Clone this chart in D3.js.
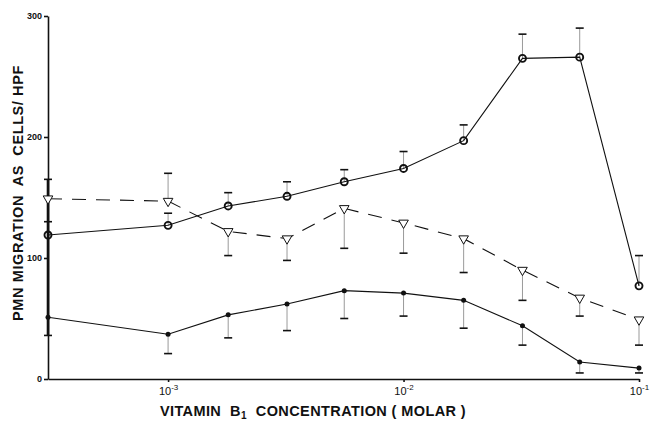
<!DOCTYPE html>
<html lang="en">
<head>
<meta charset="UTF-8">
<title>PMN migration vs vitamin B1</title>
<script src="https://cdn.jsdelivr.net/npm/d3@7"></script>
<style>
body { margin: 0; background: #fff; }
svg { display: block; }
text { font-family: 'Liberation Sans', Arial, sans-serif; fill: #111; white-space: pre; }
.axis path, .axis line { stroke: #111; stroke-width: 1.6; }
.axis text { font-size: 9px; font-weight: bold; }
.err { stroke: #555; stroke-width: 0.6; }
.cap { stroke: #111; stroke-width: 1.6; }
</style>
</head>
<body>
<svg width="654" height="422"></svg>
<script>
// concentration (molar); 0 = control, drawn on the y axis
var concentrations = [0, 1e-3, 1.8e-3, 3.2e-3, 5.6e-3, 1e-2, 1.8e-2, 3.2e-2, 5.6e-2, 1e-1];

// open circles, solid line
var circleMean = [119, 127, 143, 151, 163, 174, 197, 265, 266, 77];
var circleErr  = [130, 137, 154, 163, 173, 188, 210, 285, 290, 102];

// open triangles, dashed line
var triMean = [149, 147, 122, 116, 141, 129, 116, 90, 67, 49];
var triErr  = [165, 170, 102, 98, 108, 104, 88, 65, 52, 28];

// filled dots, solid line
var dotMean = [51, 37, 53, 62, 73, 71, 65, 44, 14, 9];
var dotErr  = [36, 21, 34, 40, 50, 52, 42, 28, 5, 5];

var yTicks = [0, 100, 200, 300];
var xTicks = [1e-3, 1e-2, 1e-1];
var xTickExp = ["-3", "-2", "-1"];

var svg = d3.select("svg");
var plotLeft = 48, plotRight = 639, plotTop = 16, plotBottom = 379;

var x = d3.scaleLog().domain([Math.pow(10, -3.51), 1e-1]).range([plotLeft, plotRight]);
var y = d3.scaleLinear().domain([0, 300]).range([plotBottom, plotTop]);

var xPos = function(c) { return c === 0 ? x(x.domain()[0]) : x(c); };

// axes
var yAxis = d3.axisLeft(y).tickValues(yTicks).tickSize(4).tickSizeOuter(0).tickPadding(2);
svg.append("g").attr("class", "axis").attr("transform", "translate(" + plotLeft + ",0)").call(yAxis);

var xAxis = d3.axisBottom(x).tickValues(xTicks).tickSize(3).tickSizeOuter(0).tickFormat("");
var xg = svg.append("g").attr("class", "axis").attr("transform", "translate(0," + plotBottom + ")").call(xAxis);
xg.selectAll(".tick").each(function(d, i) {
    var t = d3.select(this).append("text").attr("y", 16).attr("text-anchor", "middle")
        .style("font-size", "11px").style("font-weight", "normal");
    t.append("tspan").text("10");
    t.append("tspan").attr("dy", -5).style("font-size", "8px").text(xTickExp[i]);
});

// axis titles
svg.append("text")
    .attr("transform", "translate(23,193) rotate(-90)")
    .attr("text-anchor", "middle")
    .style("font-size", "14.5px").style("font-weight", "bold").style("letter-spacing", "0.6px")
    .text("PMN MIGRATION  AS  CELLS/ HPF");

var xt = svg.append("text")
    .attr("x", 313).attr("y", 416).attr("text-anchor", "middle")
    .style("font-size", "14.5px").style("font-weight", "bold").style("letter-spacing", "0.4px");
xt.append("tspan").text("VITAMIN  B");
xt.append("tspan").attr("dy", 3).style("font-size", "10px").text("1");
xt.append("tspan").attr("dy", -3).text("  CONCENTRATION ( MOLAR )");

// error bars
function errorBars(mean, err) {
    var g = svg.append("g");
    g.selectAll("line.err").data(concentrations).enter().append("line")
        .attr("class", "err")
        .attr("x1", function(d) { return xPos(d); })
        .attr("x2", function(d) { return xPos(d); })
        .attr("y1", function(d, i) { return y(mean[i]); })
        .attr("y2", function(d, i) { return y(err[i]); });
    g.selectAll("line.cap").data(concentrations).enter().append("line")
        .attr("class", "cap")
        .attr("x1", function(d) { return xPos(d) - 4; })
        .attr("x2", function(d) { return xPos(d) + 4; })
        .attr("y1", function(d, i) { return y(err[i]); })
        .attr("y2", function(d, i) { return y(err[i]); });
}
errorBars(circleMean, circleErr);
errorBars(triMean, triErr);
errorBars(dotMean, dotErr);

// control error bars drawn heavy along the axis
svg.append("line").attr("x1", plotLeft).attr("x2", plotLeft)
    .attr("y1", y(dotErr[0])).attr("y2", y(triErr[0]))
    .attr("stroke", "#111").attr("stroke-width", 2.6);

function line(vals) {
    return d3.line()
        .x(function(d) { return xPos(d); })
        .y(function(d, i) { return y(vals[i]); })(concentrations);
}

svg.append("path").attr("d", line(triMean)).attr("fill", "none")
    .attr("stroke", "#111").attr("stroke-width", 1.1).attr("stroke-dasharray", "14,10");
svg.append("path").attr("d", line(circleMean)).attr("fill", "none")
    .attr("stroke", "#111").attr("stroke-width", 1.1);
svg.append("path").attr("d", line(dotMean)).attr("fill", "none")
    .attr("stroke", "#111").attr("stroke-width", 1.1);

// markers
svg.selectAll("circle.open").data(concentrations).enter().append("circle")
    .attr("cx", function(d) { return xPos(d); })
    .attr("cy", function(d, i) { return y(circleMean[i]); })
    .attr("r", 3.5)
    .attr("fill", "none").attr("stroke", "#111").attr("stroke-width", 1.9);

var tri = d3.symbol().type(d3.symbolTriangle).size(40);
svg.selectAll("path.tri").data(concentrations).enter().append("path")
    .attr("d", tri)
    .attr("transform", function(d, i) { return "translate(" + xPos(d) + "," + y(triMean[i]) + ") rotate(180)"; })
    .attr("fill", "#fff").attr("stroke", "#111").attr("stroke-width", 1);

svg.selectAll("circle.dot").data(concentrations).enter().append("circle")
    .attr("cx", function(d) { return xPos(d); })
    .attr("cy", function(d, i) { return y(dotMean[i]); })
    .attr("r", 2.5).attr("fill", "#111");
</script>
</body>
</html>
